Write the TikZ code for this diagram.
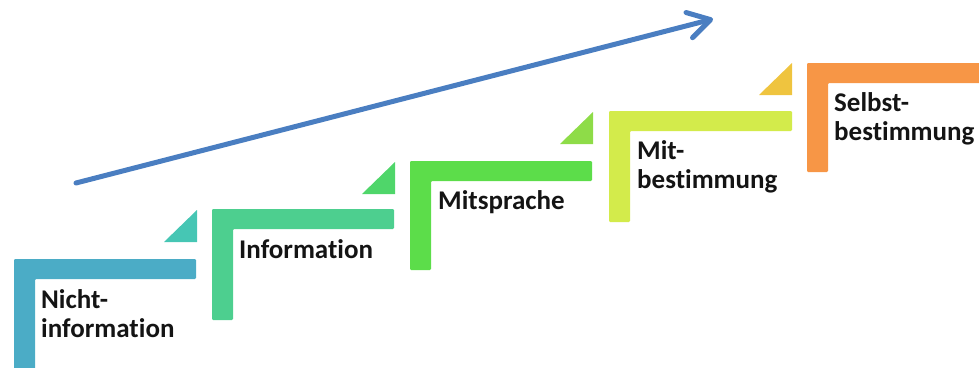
\documentclass[tikz,border=0pt]{standalone}
\usepackage{fontspec}
\setmainfont{Carlito}[Ligatures=NoCommon]
\usetikzlibrary{arrows.meta}
\definecolor{cStepA}{HTML}{4BACC6}
\definecolor{cStepB}{HTML}{4DCF8F}
\definecolor{cStepC}{HTML}{5CDD4A}
\definecolor{cStepD}{HTML}{D3EB4B}
\definecolor{cStepE}{HTML}{F79646}
\definecolor{cTriA}{HTML}{46C6B4}
\definecolor{cTriB}{HTML}{4FD66A}
\definecolor{cTriC}{HTML}{8EDC48}
\definecolor{cTriD}{HTML}{EFC43F}
\definecolor{cArrow}{HTML}{4A7EC1}
\definecolor{cText}{HTML}{141414}
\tikzset{
  stepshape/.style={fill=#1, draw=none, rounded corners=1.2pt},
  trishape/.style={fill=#1, draw=none},
  lbl/.style={font=\bfseries\fontsize{27}{29}\selectfont, text=cText, inner sep=0pt, anchor=base west, align=left},
}
\newcommand{\stepL}[5]{% color, L, T, R, B
  \fill[stepshape=#1] (#2,#3) -- (#4,#3) -- (#4,#3+20) -- (#2+21,#3+20) -- (#2+21,#5) -- (#2,#5) -- cycle;}
\newcommand{\triR}[3]{% color, xright, ytop
  \fill[trishape=#1] (#2,#3) -- (#2,#3+32) -- (#2-33,#3+32) -- cycle;}
\begin{document}
\begin{tikzpicture}[x=1pt,y=-1pt]
\useasboundingbox (0,0) rectangle (979,367);
\stepL{cStepA}{14}{259}{196}{372}
\stepL{cStepB}{212}{209}{394}{320}
\stepL{cStepC}{410}{161}{592}{270}
\stepL{cStepD}{609}{111}{792}{222}
\stepL{cStepE}{807}{63}{990}{172}
\triR{cTriA}{197}{210}
\triR{cTriB}{395}{162}
\triR{cTriC}{593}{112}
\triR{cTriD}{792}{63}
\node[lbl] (t1) at (41,337) {Nicht-\\information};
\node[lbl] (t2) at (239,258) {Information};
\node[lbl] (t3) at (438,209) {Mitsprache};
\node[lbl] (t4) at (637,188) {Mit-\\bestimmung};
\node[lbl] (t5) at (834,140) {Selbst-\\bestimmung};
\coordinate (a0) at (76,183);
\coordinate (a1) at (713,19);
\draw[cArrow, line width=5pt, line cap=round, -{Straight Barb[length=22pt,width=26pt,line cap=round,line join=round]}] (a0) -- (a1);
\end{tikzpicture}
\end{document}
